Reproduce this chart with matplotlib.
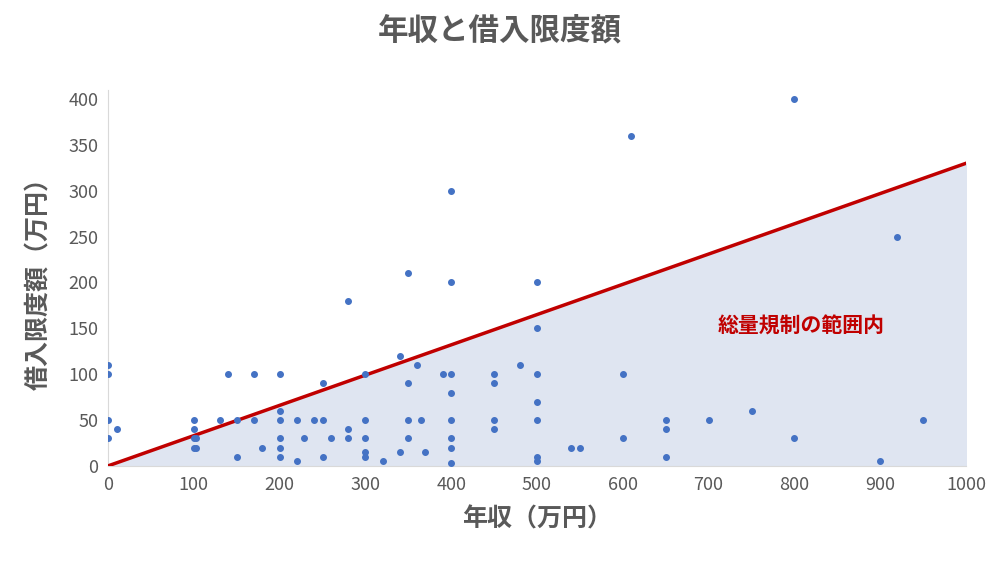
import matplotlib
matplotlib.use("Agg")
import matplotlib.pyplot as plt
import numpy as np

plt.rcParams['font.family'] = ['Noto Sans CJK JP', 'DejaVu Sans']

income = [0,0,0,0,10,100,100,100,100,103,103,130,140,150,150,170,170,180,200,200,200,200,200,200,
          220,220,228,240,250,250,250,260,280,280,280,300,300,300,300,300,320,340,340,350,350,350,350,
          360,365,370,390,400,400,400,400,400,400,400,400,450,450,450,450,480,500,500,500,500,500,500,500,
          540,550,600,600,610,650,650,650,700,750,800,800,900,920,950]
loan = [110,100,50,30,40,50,40,30,20,30,20,50,100,50,10,100,50,20,100,60,50,30,20,10,
        50,5,30,50,90,50,10,30,180,40,30,100,50,30,15,10,5,120,15,210,90,50,30,
        110,50,15,100,300,200,100,80,50,30,20,3,100,90,50,40,110,200,150,100,70,50,10,5,
        20,20,100,30,360,50,40,10,50,60,400,30,5,250,50]
limit_ratio = 0.33
x_line = [0, 1000]

fig, ax = plt.subplots(figsize=(10, 5.62), dpi=100)
fig.subplots_adjust(left=0.108, right=0.966, bottom=0.171, top=0.84)
yl = [limit_ratio * v for v in x_line]
ax.fill_between(x_line, 0, yl, color='#dfe5f1', zorder=1)
ax.plot(x_line, yl, color='#c00000', lw=2.5, zorder=3)
ax.scatter(income, loan, s=16, color='#4472c4', zorder=4)
ax.set_xlim(0, 1000)
ax.set_ylim(0, 410)
ax.set_xticks(range(0, 1001, 100))
ax.set_yticks(range(0, 401, 50))
ax.tick_params(length=0, labelsize=13, colors='#595959', pad=7)
for s in ['top', 'right']:
    ax.spines[s].set_visible(False)
for s in ['left', 'bottom']:
    ax.spines[s].set_color('#d9d9d9')
ax.set_xlabel('年収（万円）', fontsize=18, fontweight='bold', color='#595959', labelpad=10)
ax.set_ylabel('借入限度額（万円）', fontsize=18, fontweight='bold', color='#595959', labelpad=12)
ax.text(808, 152, '総量規制の範囲内', fontsize=15, fontweight='bold', color='#c00000', ha='center', va='center')
fig.suptitle('年収と借入限度額', fontsize=22, fontweight='bold', color='#595959', y=0.975)
fig.savefig('out.png')
